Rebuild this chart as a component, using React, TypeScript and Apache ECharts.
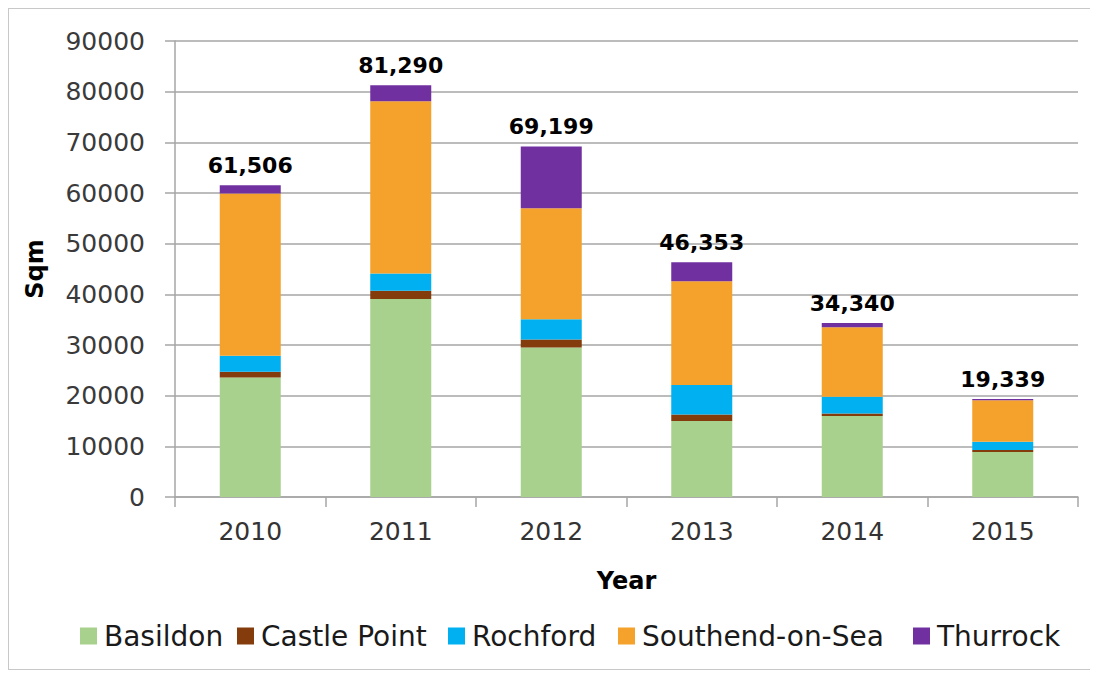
import React, { useEffect, useRef } from "react";
import * as echarts from "echarts";

const years = ["2010", "2011", "2012", "2013", "2014", "2015"];
const basildon = [23600, 39100, 29500, 15000, 16000, 8900];
const castlePoint = [1100, 1600, 1600, 1300, 500, 400];
const rochford = [3200, 3400, 4000, 5800, 3300, 1600];
const southend = [32000, 34000, 21900, 20500, 13700, 8200];
const thurrock = [1606, 3190, 12199, 3753, 840, 239];
const totals = [61506, 81290, 69199, 46353, 34340, 19339];
const seriesNames = ["Basildon", "Castle Point", "Rochford", "Southend-on-Sea", "Thurrock"];
const yTicks = [0, 10000, 20000, 30000, 40000, 50000, 60000, 70000, 80000, 90000];

const FONT = "DejaVu Sans";
const legendLefts = [66, 223, 434, 604, 899];

export default function App() {
  const ref = useRef<HTMLDivElement>(null);
  useEffect(() => {
    if (!ref.current) return;
    const chart = echarts.init(ref.current, null, { renderer: "svg" });
    const mk = (name: string, data: number[], color: string, last = false) => ({
      name,
      type: "bar",
      stack: "total",
      data,
      barWidth: 61,
      itemStyle: { color },
      emphasis: { disabled: true },
      label: last
        ? {
            show: true,
            position: "top",
            distance: 9,
            fontFamily: FONT,
            fontSize: 22,
            fontWeight: "bold",
            color: "#000",
            formatter: (p: any) => totals[p.dataIndex].toLocaleString("en-US"),
          }
        : { show: false },
    });
    chart.setOption({
      animation: false,
      textStyle: { fontFamily: FONT },
      grid: { left: 166, right: 13, top: 32, bottom: 172, containLabel: false },
      legend: seriesNames.map((n, i) => ({
        top: 608,
        left: legendLefts[i],
        itemWidth: 17,
        itemHeight: 17,
        itemGap: 0,
        icon: "rect",
        textStyle: { fontFamily: FONT, fontSize: 28, color: "#1a1a1a", padding: [0, 0, 0, 2] },
        data: [n],
      })),
      xAxis: {
        type: "category",
        data: years,
        name: "Year",
        nameLocation: "middle",
        nameGap: 72,
        nameTextStyle: { fontFamily: FONT, fontSize: 24, fontWeight: "bold", color: "#000" },
        axisLine: { lineStyle: { color: "#a6a6a6", width: 1.5 } },
        axisTick: { show: true, length: 10, lineStyle: { color: "#a6a6a6", width: 1.5 } },
        axisLabel: { fontFamily: FONT, fontSize: 25, color: "#333", margin: 22 },
      },
      yAxis: {
        type: "value",
        min: 0,
        max: 90000,
        interval: 10000,
        name: "Sqm",
        nameLocation: "middle",
        nameGap: 128,
        nameRotate: 90,
        nameTextStyle: { fontFamily: FONT, fontSize: 24, fontWeight: "bold", color: "#000" },
        axisLine: { show: true, lineStyle: { color: "#a6a6a6", width: 1.5 } },
        axisTick: { show: true, length: 10, lineStyle: { color: "#a6a6a6", width: 1.5 } },
        splitLine: { lineStyle: { color: "#a6a6a6", width: 1.5 } },
        axisLabel: {
          fontFamily: FONT,
          fontSize: 25,
          color: "#3a3a3a",
          margin: 30,
          formatter: (v: number) => (yTicks.includes(v) ? String(v) : ""),
        },
      },
      series: [
        mk(seriesNames[0], basildon, "#A9D18E"),
        mk(seriesNames[1], castlePoint, "#843C0C"),
        mk(seriesNames[2], rochford, "#00B0F0"),
        mk(seriesNames[3], southend, "#F4A22B"),
        mk(seriesNames[4], thurrock, "#7030A0", true),
      ],
    });
    return () => chart.dispose();
  }, []);
  return (
    <div
      ref={ref}
      style={{ width: 1082, height: 660, border: "1px solid #c8c8c8", background: "#fff" }}
    />
  );
}
